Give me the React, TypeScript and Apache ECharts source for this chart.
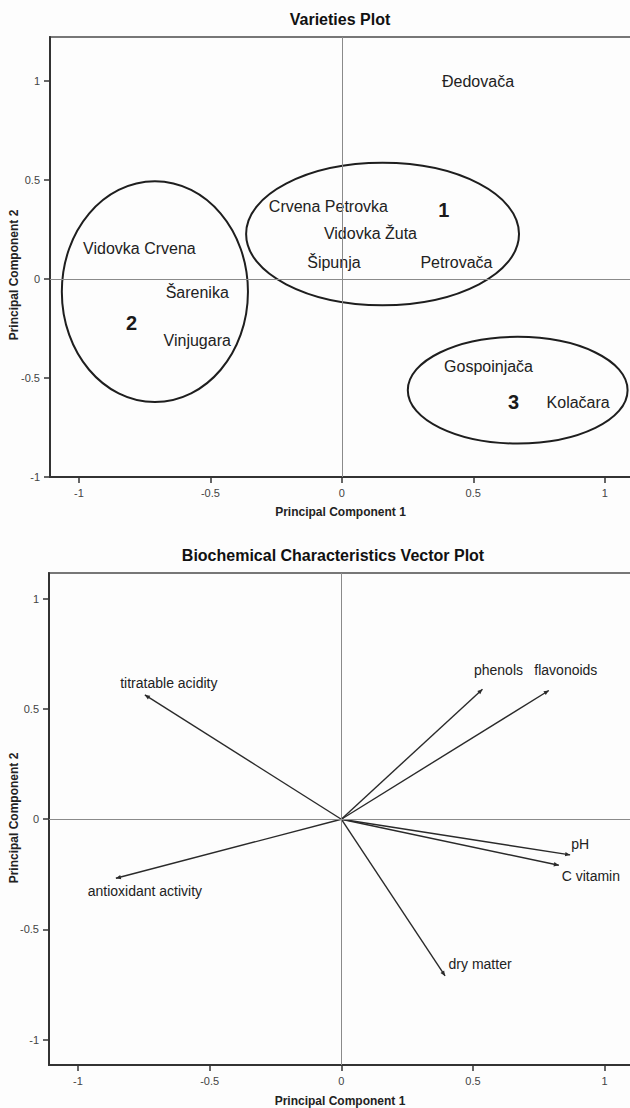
import React, { useEffect, useRef } from "react";
import * as echarts from "echarts";

// ---------- Varieties plot data ----------
const varietyNames = [
  "Đedovača",
  "Crvena Petrovka",
  "Vidovka Žuta",
  "Vidovka Crvena",
  "Šipunja",
  "Petrovača",
  "Šarenika",
  "Vinjugara",
  "Gospoinjača",
  "Kolačara",
];
const varietyPC1 = [0.518, -0.051, 0.109, -0.77, -0.03, 0.436, -0.55, -0.55, 0.558, 0.899];
const varietyPC2 = [0.997, 0.366, 0.227, 0.151, 0.081, 0.081, -0.068, -0.311, -0.444, -0.622];

const clusterIds = ["1", "2", "3"];
const clusterLabelPC1 = [0.388, -0.8, 0.653];
const clusterLabelPC2 = [0.346, -0.225, -0.62];
const clusterCenterPC1 = [0.155, -0.711, 0.669];
const clusterCenterPC2 = [0.226, -0.065, -0.562];
const clusterRadiusPC1 = [0.519, 0.354, 0.418];
const clusterRadiusPC2 = [0.359, 0.557, 0.269];

// ---------- Vector plot data ----------
const vectorNames = [
  "titratable acidity",
  "phenols",
  "flavonoids",
  "pH",
  "C vitamin",
  "antioxidant activity",
  "dry matter",
];
const vectorPC1 = [-0.746, 0.536, 0.788, 0.869, 0.826, -0.856, 0.394];
const vectorPC2 = [0.564, 0.59, 0.584, -0.162, -0.209, -0.268, -0.711];

// ---------- tick labels ----------
const axisTicks = [-1, -0.5, 0, 0.5, 1];

// ---------- layout (pixel offsets of vector labels from arrow tips) ----------
const vectorLabelOffsets: [number, number][] = [
  [24, -12],
  [16, -19],
  [17, -20],
  [10, -11],
  [32, 11],
  [29, 13],
  [35, -12],
];

const FONT = "'Liberation Sans', Arial, sans-serif";

function xAxis(gridIndex: number, nameGap: number) {
  return {
    type: "value",
    gridIndex,
    min: -1.11,
    max: 1.1,
    name: "Principal Component 1",
    nameLocation: "middle",
    nameGap,
    nameMoveOverlap: false,
    nameTextStyle: { fontFamily: FONT, fontWeight: "bold", fontSize: 12, color: "#222" },
    axisLine: { show: true, onZero: false, lineStyle: { color: "#333", width: 2 } },
    axisTick: {
      show: true,
      inside: false,
      length: 6,
      customValues: axisTicks,
      lineStyle: { color: "#333", width: 1.5 },
    },
    axisLabel: { customValues: axisTicks, margin: 10, fontFamily: FONT, fontSize: 11, color: "#444" },
    splitLine: { show: false },
  };
}

function yAxis(gridIndex: number, min: number, max: number) {
  return {
    type: "value",
    gridIndex,
    min,
    max,
    axisLine: { show: true, onZero: false, lineStyle: { color: "#333", width: 2 } },
    axisTick: {
      show: true,
      inside: false,
      length: 6,
      customValues: axisTicks,
      lineStyle: { color: "#333", width: 1.5 },
    },
    axisLabel: { customValues: axisTicks, margin: 10, fontFamily: FONT, fontSize: 11, color: "#444" },
    splitLine: { show: false },
  };
}

const zeroLines = {
  silent: true,
  symbol: ["none", "none"],
  label: { show: false },
  lineStyle: { color: "#8a8a8a", width: 1, type: "solid" },
  data: [{ xAxis: 0 }, { yAxis: 0 }],
};

function titleText(text: string, x: number, y: number) {
  return {
    type: "text",
    x,
    y,
    style: {
      text,
      align: "center",
      verticalAlign: "middle",
      fontFamily: FONT,
      fontWeight: "bold",
      fontSize: 16,
      fill: "#111",
    },
  };
}

function yNameText(x: number, y: number) {
  return {
    type: "text",
    x,
    y,
    rotation: Math.PI / 2,
    style: {
      text: "Principal Component 2",
      align: "center",
      verticalAlign: "middle",
      fontFamily: FONT,
      fontWeight: "bold",
      fontSize: 12,
      fill: "#222",
    },
  };
}

export default function App() {
  const ref = useRef<HTMLDivElement>(null);

  useEffect(() => {
    document.body.style.margin = "0";
    const chart = echarts.init(ref.current!, null, { renderer: "svg" });

    const option: any = {
      animation: false,
      backgroundColor: "#fdfdfd",
      graphic: [
        titleText("Varieties Plot", 340, 19),
        titleText("Biochemical Characteristics Vector Plot", 333, 555),
        yNameText(14, 275),
        yNameText(14, 818),
      ],
      grid: [
        {
          left: 50,
          top: 37,
          width: 581,
          height: 440,
          show: true,
          borderColor: "#777",
          borderWidth: 2,
          backgroundColor: "transparent",
          outerBoundsMode: "none",
          containLabel: false,
        },
        {
          left: 49,
          top: 573,
          width: 582,
          height: 492,
          show: true,
          borderColor: "#777",
          borderWidth: 2,
          backgroundColor: "transparent",
          outerBoundsMode: "none",
          containLabel: false,
        },
      ],
      xAxis: [xAxis(0, 29), xAxis(1, 30)],
      yAxis: [yAxis(0, -1.0, 1.22), yAxis(1, -1.115, 1.117)],
      series: [
        // cluster ellipses
        {
          type: "custom",
          xAxisIndex: 0,
          yAxisIndex: 0,
          silent: true,
          clip: false,
          data: clusterIds.map((_, i) => [
            clusterCenterPC1[i],
            clusterCenterPC2[i],
            clusterRadiusPC1[i],
            clusterRadiusPC2[i],
          ]),
          renderItem: (params: any, api: any) => {
            const c = api.coord([api.value(0), api.value(1)]);
            const s = api.size([api.value(2), api.value(3)]);
            return {
              type: "ellipse",
              shape: { cx: c[0], cy: c[1], rx: s[0], ry: s[1] },
              style: { fill: "none", stroke: "#1e1e1e", lineWidth: 2 },
            };
          },
          markLine: zeroLines,
          z: 3,
        },
        // variety labels
        {
          type: "custom",
          xAxisIndex: 0,
          yAxisIndex: 0,
          silent: true,
          clip: false,
          data: varietyNames.map((_, i) => [varietyPC1[i], varietyPC2[i]]),
          renderItem: (params: any, api: any) => {
            const p = api.coord([api.value(0), api.value(1)]);
            return {
              type: "text",
              x: p[0],
              y: p[1],
              style: {
                text: varietyNames[params.dataIndex],
                align: "center",
                verticalAlign: "middle",
                fontFamily: FONT,
                fontSize: 16,
                fill: "#222",
              },
            };
          },
          z: 4,
        },
        // cluster numbers
        {
          type: "custom",
          xAxisIndex: 0,
          yAxisIndex: 0,
          silent: true,
          clip: false,
          data: clusterIds.map((_, i) => [clusterLabelPC1[i], clusterLabelPC2[i]]),
          renderItem: (params: any, api: any) => {
            const p = api.coord([api.value(0), api.value(1)]);
            return {
              type: "text",
              x: p[0],
              y: p[1],
              style: {
                text: clusterIds[params.dataIndex],
                align: "center",
                verticalAlign: "middle",
                fontFamily: FONT,
                fontWeight: "bold",
                fontSize: 20,
                fill: "#1a1a1a",
              },
            };
          },
          z: 4,
        },
        // vectors
        {
          type: "custom",
          xAxisIndex: 1,
          yAxisIndex: 1,
          silent: true,
          clip: false,
          data: vectorNames.map((_, i) => [vectorPC1[i], vectorPC2[i]]),
          renderItem: (params: any, api: any) => {
            const o = api.coord([0, 0]);
            const t = api.coord([api.value(0), api.value(1)]);
            const dx = t[0] - o[0];
            const dy = t[1] - o[1];
            const len = Math.sqrt(dx * dx + dy * dy) || 1;
            const ux = dx / len;
            const uy = dy / len;
            const hl = 5;
            const hw = 2.2;
            const bx = t[0] - ux * hl;
            const by = t[1] - uy * hl;
            const off = vectorLabelOffsets[params.dataIndex];
            return {
              type: "group",
              children: [
                {
                  type: "line",
                  shape: { x1: o[0], y1: o[1], x2: t[0], y2: t[1] },
                  style: { stroke: "#2a2a2a", lineWidth: 1.4 },
                },
                {
                  type: "polygon",
                  shape: {
                    points: [
                      [t[0], t[1]],
                      [bx - uy * hw, by + ux * hw],
                      [bx + uy * hw, by - ux * hw],
                    ],
                  },
                  style: { fill: "#2a2a2a" },
                },
                {
                  type: "text",
                  x: t[0] + off[0],
                  y: t[1] + off[1],
                  style: {
                    text: vectorNames[params.dataIndex],
                    align: "center",
                    verticalAlign: "middle",
                    fontFamily: FONT,
                    fontSize: 14,
                    fill: "#222",
                  },
                },
              ],
            };
          },
          markLine: zeroLines,
          z: 3,
        },
      ],
    };

    chart.setOption(option);
    return () => chart.dispose();
  }, []);

  return <div ref={ref} style={{ width: 630, height: 1108 }} />;
}
